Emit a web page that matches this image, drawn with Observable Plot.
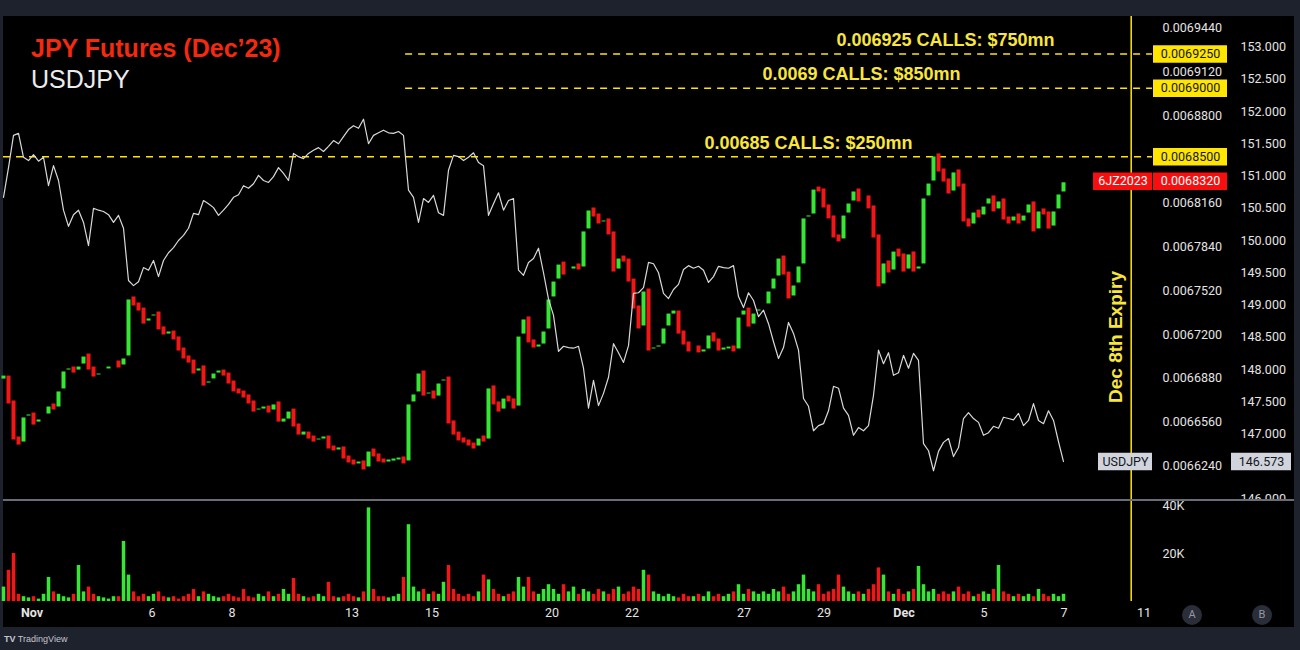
<!DOCTYPE html>
<html><head><meta charset="utf-8">
<script src="https://cdn.jsdelivr.net/npm/d3@7"></script>
<script src="https://cdn.jsdelivr.net/npm/@observablehq/plot@0.6"></script>
<style>
html,body{margin:0;padding:0;background:#1e222d;}
#wrap{position:relative;width:1300px;height:650px;overflow:hidden;background:#1e222d;}
#panel{position:absolute;left:3px;top:16px;width:1291px;height:611px;background:#000;}
#sep{position:absolute;left:3px;top:499px;width:1291px;height:2px;background:#6a6d77;}
#cut{position:absolute;left:1232px;top:501px;width:62px;height:9px;background:#000;}
.layer{position:absolute;left:0;top:0;}
#t1{position:absolute;left:31px;top:36px;font:bold 25px/25px "Liberation Sans",Arial,sans-serif;color:#f4290e;white-space:nowrap;}
#t2{position:absolute;left:31px;top:67px;font:25px/25px "Liberation Sans",Arial,sans-serif;color:#ececec;white-space:nowrap;}
.btn{position:absolute;width:20px;height:20px;border-radius:50%;background:#2a2e39;color:#9598a1;font:11px/20px Roboto,sans-serif;text-align:center;}
#tv{position:absolute;left:4px;top:633px;font:9px/12px "Liberation Sans",Arial,sans-serif;color:#c3c6ce;white-space:nowrap;}
</style></head>
<body>
<div id="wrap">
  <div id="panel"></div>
  <div id="layers"></div>
  <div id="sep"></div>
  <div id="cut"></div>
  <div id="t1">JPY Futures (Dec’23)</div>
  <div id="t2">USDJPY</div>
  <div class="btn" style="left:1182px;top:605px;">A</div>
  <div class="btn" style="left:1252px;top:605px;">B</div>
  <div id="tv"><b>TV</b> TradingView</div>
</div>
<script>
// ---------------- DATA (3-hour samples) ----------------
const usdjpy = [
150.67,151.13,151.63,151.66,151.29,151.24,151.33,151.23,151.29,150.85,
151.16,150.93,150.47,150.22,150.40,150.47,150.28,149.92,150.50,150.47,
150.45,150.40,150.28,150.39,150.19,149.38,149.30,149.36,149.58,149.54,
149.69,149.44,149.69,149.81,149.89,150.00,150.08,150.19,150.42,150.40,
150.62,150.57,150.51,150.39,150.47,150.56,150.67,150.71,150.85,150.81,
150.88,151.01,150.93,150.90,150.99,151.13,151.04,150.93,151.35,151.30,
151.27,151.35,151.40,151.44,151.38,151.46,151.55,151.50,151.61,151.72,
151.78,151.74,151.88,151.50,151.63,151.67,151.71,151.67,151.66,151.69,
151.63,150.78,150.67,150.28,150.65,150.59,150.70,150.43,150.39,151.09,
151.32,151.30,151.24,151.29,151.36,151.21,151.16,150.39,150.57,150.74,
150.47,150.62,150.65,149.54,149.46,149.66,149.72,149.88,149.50,149.09,
148.84,148.28,148.36,148.34,148.33,148.36,148.02,147.40,147.83,147.44,
147.63,147.88,148.40,148.26,148.11,148.37,149.18,149.19,149.27,149.66,
149.64,149.50,149.18,149.10,149.24,149.32,149.55,149.61,149.57,149.60,
149.54,149.35,149.44,149.60,149.58,149.57,149.61,149.13,148.96,149.19,
149.07,148.82,148.92,148.71,148.43,148.17,148.34,148.73,148.56,148.30,
147.55,147.43,147.05,147.13,147.16,147.36,147.74,147.71,147.40,147.29,
146.98,147.10,147.05,147.13,147.60,148.30,148.09,148.26,147.91,147.95,
148.22,148.02,148.25,148.14,146.85,146.74,146.43,146.73,146.87,146.93,
146.65,146.79,147.24,147.33,147.24,147.18,146.98,147.02,147.12,147.09,
147.26,147.24,147.22,147.32,147.13,147.21,147.47,147.21,147.16,147.36,
147.21,146.88,146.573];

const jpyFutClose = [
0.0066886,0.0066704,0.0066441,0.0066404,0.0066602,0.0066616,0.0066550,0.0066587,0.0066609,0.0066682,
0.0066660,0.0066792,0.0066938,0.0066952,0.0066930,0.0066974,0.0067047,0.0066952,0.0066901,0.0066916,
0.0066938,0.0066974,0.0066996,0.0066967,0.0067033,0.0067464,0.0067420,0.0067383,0.0067288,0.0067325,
0.0067354,0.0067245,0.0067208,0.0067215,0.0067172,0.0067091,0.0067033,0.0067003,0.0066923,0.0066960,
0.0066835,0.0066865,0.0066923,0.0066930,0.0066908,0.0066850,0.0066792,0.0066777,0.0066748,0.0066704,
0.0066645,0.0066660,0.0066667,0.0066638,0.0066697,0.0066572,0.0066572,0.0066645,0.0066536,0.0066477,
0.0066477,0.0066448,0.0066426,0.0066441,0.0066448,0.0066375,0.0066361,0.0066368,0.0066302,0.0066273,
0.0066258,0.0066266,0.0066222,0.0066353,0.0066317,0.0066280,0.0066273,0.0066280,0.0066287,0.0066295,
0.0066266,0.0066697,0.0066770,0.0066923,0.0066762,0.0066777,0.0066740,0.0066850,0.0066879,0.0066558,
0.0066477,0.0066434,0.0066419,0.0066397,0.0066375,0.0066448,0.0066426,0.0066814,0.0066697,0.0066645,
0.0066740,0.0066719,0.0066667,0.0067193,0.0067318,0.0067150,0.0067113,0.0067120,0.0067230,0.0067464,
0.0067595,0.0067719,0.0067646,0.0067668,0.0067705,0.0067683,0.0067961,0.0068114,0.0068070,0.0068019,
0.0068034,0.0067939,0.0067668,0.0067763,0.0067741,0.0067595,0.0067398,0.0067252,0.0067522,0.0067091,
0.0067106,0.0067120,0.0067252,0.0067361,0.0067361,0.0067215,0.0067135,0.0067084,0.0067106,0.0067077,
0.0067084,0.0067201,0.0067157,0.0067091,0.0067098,0.0067106,0.0067084,0.0067332,0.0067383,0.0067266,
0.0067361,0.0067391,0.0067413,0.0067522,0.0067617,0.0067763,0.0067646,0.0067471,0.0067566,0.0067705,
0.0068056,0.0068070,0.0068267,0.0068253,0.0068136,0.0068056,0.0067917,0.0067888,0.0068077,0.0068165,
0.0068253,0.0068180,0.0068202,0.0068129,0.0067917,0.0067559,0.0067727,0.0067661,0.0067814,0.0067778,
0.0067668,0.0067793,0.0067668,0.0067705,0.0068202,0.0068311,0.0068509,0.0068399,0.0068326,0.0068238,
0.0068392,0.0068289,0.0068034,0.0067997,0.0068099,0.0068063,0.0068143,0.0068202,0.0068107,0.0068180,
0.0068048,0.0068019,0.0068070,0.0068019,0.0068077,0.0068158,0.0067961,0.0068107,0.0068085,0.0067982,
0.0068107,0.0068231,0.0068320];

const volumeK = [
6,13,20,3,2,1.5,2,1,3,10,
4,3,2,1.5,3,15,4,6,3,2,
1.5,1,2,2,25,11,4,2,3,2,
3,4,2,1.5,2,1,2,3,5,2,
4,3,2,1.5,2,3,2,1.5,5,2,
1.5,3,2,4,2,3,5,3,9.6,3,
2,1.5,2,3,2,8,2,1.5,2,3,
2,1.5,4,39,5,2,2,1.5,2,3,
10,32,6,4,5,3,4,3,8,15,
5,3,2,3,2,4,11,9,5,3,
2,3,4,10,6,10,4,3,5,7,
5,3,7,4,6,3,5,4,3,5,
4,3,5,6,3,4,6,5,13,11,
4,3,2,3,2,1.5,3,2,2,3,
2,4,2,3,2,3,4,7,3,5,
4,3,4,3,5,4,6,3,4,7,
11,5,4,7,3,4,5,11,6,4,
3,4,3,5,7,14,11,4,3,5,
3,4,5,14.6,7,4,5,3,4,3,
4,6,3,4,2,3,4,3,5,15,
4,3,2,3,2,3,2,5,3,2,
3,2,3];

// time axis in trading days (Nov 1 = 0), 8 bars per day, first bar late Oct 31
const firstBarDay = -0.7125;
const barsPerDay = 8;
const xTickDays   = [0, 3, 5, 8, 10, 13, 15, 17.8, 19.8, 21.8, 23.8, 25.8, 27.8];
const xTickLabels = ["Nov","6","8","13","15","20","22","27","29","Dec","5","7","11"];
const monthLabels = ["Nov","Dec"];

// (146.500 and 0.0068480 sit behind price tags in the reference)
const usdTicks = [146,147,147.5,148,148.5,149,149.5,150,150.5,151,151.5,152,152.5,153];
const jpyTicks = [0.006944,0.006912,0.00688,0.006816,0.006784,0.006752,0.00672,0.006688,0.006656,0.006624];
const volTicks = [20000, 40000];

const callLevels = [0.006925, 0.0069, 0.00685];
const callLabels = ["0.006925 CALLS: $750mn", "0.0069 CALLS: $850mn", "0.00685 CALLS: $250mn"];
const lastJpy = 0.006832;
const lastUsd = 146.573;
const jpySymbol = "6JZ2023";
const usdSymbol = "USDJPY";
const expiryDay = 27.48;
const expiryLabel = "Dec 8th Expiry";

// ---------------- layout / style ----------------
const W = 1300, H = 650;
const GREEN = "#35e635", RED = "#f21616", YELLOW = "#ffe600", YTEXT = "#f9e63a", AXIS = "#e4e4e4";
const AX_FONT = "Roboto, 'Liberation Sans', sans-serif";
const T_FONT = "'Liberation Sans', Arial, sans-serif";
const xScale = {type: "linear", domain: [-0.7125, 28.0125], range: [3, 1152], axis: null};
const yJpy = {type: "linear", domain: [0.006624, 0.006944], range: [465.5, 27.5], axis: null};
const yUsd = {type: "linear", domain: [146, 153], range: [498, 46.5], axis: null};
const yVol = {type: "linear", domain: [0, 40000], range: [601, 505], axis: null};
const callLabelDays = [20.11, 18.26, 16.81];
const upperCallsStartDay = 9.34;

const bars = jpyFutClose.map((c, i) => {
  const open = i ? jpyFutClose[i - 1] : c;
  return {day: firstBarDay + i / barsPerDay, open, close: c, up: c >= open,
          vol: volumeK[i] * 1000, usd: usdjpy[i]};
});
const xTicks = xTickDays.map((d, i) => ({day: d, label: xTickLabels[i]}));

const base = {width: W, height: H, style: {background: "transparent", overflow: "visible"}, color: {type: "identity"}};
const layers = [];

// volume pane + time axis
layers.push(Plot.plot({...base, marginLeft: 3, marginRight: 138, marginTop: 501, marginBottom: 47,
  x: xScale, y: yVol,
  marks: [
    Plot.ruleX(bars, {x: "day", y1: 0, y2: "vol", stroke: d => d.up ? GREEN : RED, strokeWidth: 3.5}),
    Plot.text(volTicks, {y: d => d, text: d => d / 1000 + "K", frameAnchor: "right", textAnchor: "start",
      fill: AXIS, fontSize: 12.5, fontFamily: AX_FONT}),
    Plot.text(xTicks.filter(d => !monthLabels.includes(d.label)), {x: "day", text: "label", frameAnchor: "bottom",
      lineAnchor: "top", dy: 5, fill: AXIS, fontSize: 12.5, fontFamily: AX_FONT}),
    Plot.text(xTicks.filter(d => monthLabels.includes(d.label)), {x: "day", text: "label", frameAnchor: "bottom",
      lineAnchor: "top", dy: 5, fill: AXIS, fontSize: 12.5, fontWeight: "bold", fontFamily: AX_FONT})
  ]}));

// JPY futures pane
layers.push(Plot.plot({...base, marginLeft: 3, marginRight: 138, marginTop: 16, marginBottom: 49,
  x: xScale, y: yJpy,
  marks: [
    Plot.ruleY([callLevels[2]], {x1: xScale.domain[0], x2: xScale.domain[1], stroke: YELLOW, strokeWidth: 1.5, strokeDasharray: "7,6"}),
    Plot.ruleY(callLevels.slice(0, 2), {x1: upperCallsStartDay, x2: xScale.domain[1], stroke: YELLOW, strokeWidth: 1.5, strokeDasharray: "7,6"}),
    Plot.ruleX(bars, {x: "day", y1: "open", y2: "close", stroke: d => d.up ? GREEN : RED, strokeWidth: 4,
      insetTop: -1.5, insetBottom: -1.5}),
    Plot.text(callLevels, {x: callLabelDays, y: d => d, text: (d, i) => callLabels[i], dy: -13.5, textAnchor: "start",
      fill: YTEXT, fontSize: 18, fontWeight: "bold", fontFamily: T_FONT}),
    Plot.ruleX([expiryDay], {stroke: YELLOW, strokeWidth: 1.5}),
    Plot.text([expiryLabel], {x: () => expiryDay, frameAnchor: "middle", text: d => d, rotate: -90, dx: -15, dy: 28,
      fill: YTEXT, fontSize: 19, fontWeight: "bold", fontFamily: T_FONT}),
    Plot.text(jpyTicks, {y: d => d, text: d => d.toFixed(7), frameAnchor: "right", textAnchor: "start",
      fill: AXIS, fontSize: 12.5, fontFamily: AX_FONT})
  ]}));

// USDJPY pane
layers.push(Plot.plot({...base, marginLeft: 3, marginRight: 60, marginTop: 16, marginBottom: 150,
  x: xScale, y: yUsd,
  marks: [
    Plot.line(bars, {x: "day", y: "usd", stroke: "#d9d9d9", strokeWidth: 1.2}),
    Plot.text(usdTicks, {y: d => d, text: d => d.toFixed(3), frameAnchor: "right", textAnchor: "start",
      fill: AXIS, fontSize: 12.5, fontFamily: AX_FONT})
  ]}));

// price tags on the axis
function tagLayer(yScale, values, labels, left, right, fill, color) {
  return Plot.plot({...base, marginLeft: left, marginRight: W - right, marginTop: 0, marginBottom: 0,
    x: {domain: [0, 1], axis: null}, y: yScale,
    marks: [
      Plot.ruleY(values, {stroke: fill, strokeWidth: 17.5}),
      Plot.text(values, {y: d => d, text: (d, i) => labels[i], fill: color, fontSize: 12.5, fontFamily: AX_FONT})
    ]});
}
layers.push(tagLayer(yJpy, callLevels, callLevels.map(d => d.toFixed(7)), 1153, 1227, "#ffe500", "#131722"));
layers.push(tagLayer(yJpy, [lastJpy], [lastJpy.toFixed(7)], 1153, 1227, "#f70f0f", "#ffffff"));
layers.push(tagLayer(yJpy, [lastJpy], [jpySymbol], 1093, 1152, "#f70f0f", "#ffffff"));
layers.push(tagLayer(yUsd, [lastUsd], [usdSymbol], 1098, 1152, "#d1d4dc", "#131722"));
layers.push(tagLayer(yUsd, [lastUsd], [lastUsd.toFixed(3)], 1231, 1291, "#d1d4dc", "#131722"));

const host = document.getElementById("layers");
for (const svg of layers) { svg.classList.add("layer"); host.appendChild(svg); }
</script>
</body></html>
